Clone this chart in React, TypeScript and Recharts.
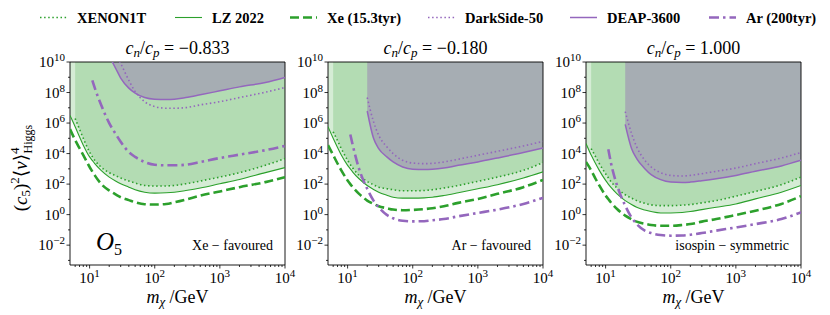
import React from "react";
import { ComposedChart, Line, Area, XAxis, YAxis, ReferenceArea } from "recharts";

// WIMP masses in GeV (shared grid for every curve)
const MASSES = [5, 6, 7, 8, 10, 11, 12, 15, 20, 25, 30, 40, 50, 70, 100, 150, 200, 300, 500, 1000, 2000, 5000, 10000];

// log10 of the limit on (c5)^2 <v>^4; null = curve not drawn there
// cn/cp = -0.833 (Xe favoured)
const P1_X1T = [null, 6.3, 5.6, 5.0, 4.1, 3.8, 3.56, 3.12, 2.75, 2.55, 2.4, 2.2, 2.07, 1.91, 1.87, 1.88, 1.91, 2.02, 2.2, 2.46, 2.75, 3.23, 3.67];
const P1_LZ = [6.5, 5.76, 5.1, 4.55, 3.78, 3.55, 3.34, 2.9, 2.46, 2.2, 2.02, 1.8, 1.63, 1.47, 1.41, 1.43, 1.47, 1.58, 1.74, 2.02, 2.3, 2.75, 3.08];
const P1_XE = [5.6, 4.88, 4.35, 3.9, 3.12, 2.83, 2.57, 2.02, 1.58, 1.33, 1.14, 0.95, 0.81, 0.68, 0.66, 0.7, 0.81, 0.99, 1.25, 1.52, 1.8, 2.13, 2.46];
const P1_DS = [null, null, null, null, null, null, null, null, 11.5, 10.5, 9.9, 8.8, 8.07, 7.4, 7.08, 6.97, 6.97, 7.01, 7.19, 7.4, 7.67, 8.02, 8.33];
const P1_DEAP = [null, null, null, null, null, null, null, null, 10.4, 9.6, 8.95, 8.29, 7.96, 7.67, 7.56, 7.54, 7.56, 7.67, 7.85, 8.11, 8.37, 8.66, 8.99];
const P1_AR = [null, null, null, null, null, 8.8, 8.3, 7.2, 6.0, 5.3, 4.77, 4.1, 3.78, 3.45, 3.27, 3.23, 3.23, 3.27, 3.45, 3.71, 3.93, 4.22, 4.5];

// cn/cp = -0.180 (Ar favoured)
const P2_X1T = [null, 5.43, 4.85, 4.33, 3.56, 3.28, 3.05, 2.57, 2.18, 1.95, 1.8, 1.7, 1.63, 1.56, 1.56, 1.58, 1.63, 1.74, 1.91, 2.18, 2.46, 2.9, 3.41];
const P2_LZ = [5.76, 5.0, 4.4, 3.9, 3.23, 3.0, 2.79, 2.35, 1.91, 1.65, 1.47, 1.27, 1.14, 1.08, 1.08, 1.1, 1.14, 1.25, 1.43, 1.69, 1.96, 2.4, 2.8];
const P2_XE = [4.55, 3.9, 3.35, 2.9, 2.24, 2.0, 1.8, 1.36, 0.92, 0.7, 0.55, 0.42, 0.33, 0.29, 0.31, 0.36, 0.42, 0.55, 0.77, 1.03, 1.36, 1.8, 2.27];
const P2_DS = [null, null, null, null, null, null, null, null, 7.67, 6.09, 5.2, 4.44, 4.0, 3.56, 3.38, 3.34, 3.36, 3.45, 3.63, 3.89, 4.15, 4.5, 4.8];
const P2_DEAP = [null, null, null, null, null, null, null, null, 6.79, 5.0, 4.33, 3.78, 3.45, 3.12, 2.97, 2.95, 2.97, 3.05, 3.23, 3.45, 3.71, 4.07, 4.37];
const P2_AR = [null, null, null, null, null, 5.25, 4.55, 3.0, 1.69, 0.92, 0.48, -0.02, -0.24, -0.4, -0.44, -0.43, -0.37, -0.29, -0.11, 0.11, 0.33, 0.7, 1.1];

// cn/cp = 1.000 (isospin symmetric)
const P3_X1T = [null, 4.33, 3.8, 3.34, 2.68, 2.42, 2.18, 1.74, 1.3, 1.08, 0.92, 0.74, 0.64, 0.59, 0.59, 0.62, 0.66, 0.77, 0.92, 1.21, 1.52, 1.96, 2.46];
const P3_LZ = [4.66, 3.9, 3.35, 2.9, 2.24, 2.0, 1.8, 1.36, 0.92, 0.66, 0.48, 0.3, 0.2, 0.11, 0.11, 0.14, 0.2, 0.33, 0.48, 0.7, 1.03, 1.47, 1.91];
const P3_XE = [3.45, 2.9, 2.35, 1.91, 1.25, 1.02, 0.81, 0.37, -0.07, -0.3, -0.46, -0.6, -0.68, -0.73, -0.73, -0.68, -0.62, -0.46, -0.29, -0.02, 0.26, 0.7, 1.21];
const P3_DS = [null, null, null, null, null, null, null, null, 6.75, 5.32, 4.44, 3.56, 3.12, 2.75, 2.57, 2.53, 2.57, 2.68, 2.84, 3.05, 3.34, 3.71, 4.07];
const P3_DEAP = [null, null, null, null, null, null, null, null, 5.91, 4.33, 3.67, 3.01, 2.62, 2.29, 2.13, 2.1, 2.13, 2.22, 2.35, 2.57, 2.84, 3.19, 3.56];
const P3_AR = [null, null, null, null, null, 4.29, 3.45, 1.91, 0.59, -0.18, -0.62, -1.05, -1.21, -1.34, -1.38, -1.37, -1.32, -1.21, -1.05, -0.84, -0.62, -0.29, 0.15];

const TITLES = ["\u22120.833", "\u22120.180", "1.000"];
const NOTES = ["Xe \u2212 favoured", "Ar \u2212 favoured", "isospin \u2212 symmetric"];

const X_TICKS = [6, 7, 8, 9, 10, 20, 30, 40, 50, 60, 70, 80, 90, 100, 200, 300, 400, 500, 600, 700, 800, 900, 1000, 2000, 3000, 4000, 5000, 6000, 7000, 8000, 9000, 10000];
const Y_TICKS = [1e-3, 1e-2, 1e-1, 1, 1e1, 1e2, 1e3, 1e4, 1e5, 1e6, 1e7, 1e8, 1e9, 1e10];

const GREEN = "#2ca02c";
const PURPLE = "#9467bd";
const GREY = "#a6adb3";
const FONT = "'Liberation Serif', 'DejaVu Serif', serif";

const PLOT_LEFTS = [70, 328, 586];
const PLOT_TOP = 62;
const PLOT_W = 215;
const PLOT_H = 203;
const Y_AXIS_W = 62;
const X_AXIS_H = 40;
const M_TOP = 14;
const M_RIGHT = 18;
const TOP = 1e11;

type Arr = (number | null)[];

function buildRows(x1t: Arr, lz: Arr, xe: Arr, ds: Arr, deap: Arr, ar: Arr) {
  const val = (a: Arr, i: number) => (a[i] == null ? null : 10 ** (a[i] as number));
  const band = (a: Arr, i: number) => (a[i] == null ? null : [10 ** (a[i] as number), TOP]);
  return MASSES.map((m, i) => ({
    m,
    x1t: val(x1t, i),
    lz: val(lz, i),
    xe: val(xe, i),
    ds: val(ds, i),
    deap: val(deap, i),
    ar: val(ar, i),
    lzBand: band(lz, i),
    x1tBand: band(x1t, i),
    deapBand: band(deap, i),
  }));
}

const PANELS = [
  buildRows(P1_X1T, P1_LZ, P1_XE, P1_DS, P1_DEAP, P1_AR),
  buildRows(P2_X1T, P2_LZ, P2_XE, P2_DS, P2_DEAP, P2_AR),
  buildRows(P3_X1T, P3_LZ, P3_XE, P3_DS, P3_DEAP, P3_AR),
];

const fmtExp = (e: number) => (e < 0 ? "\u2212" + Math.abs(e) : String(e));

function XTick(props: any) {
  const { x, y, payload } = props;
  const e = Math.log10(payload.value);
  const major = Math.abs(e - Math.round(e)) < 1e-6;
  return (
    <g>
      <line x1={x} x2={x} y1={y} y2={y + (major ? 3.5 : 2)} stroke="#000" strokeWidth={0.8} />
      {major && (
        <text x={x} y={y + 18} textAnchor="middle" fontFamily={FONT} fontSize={15} fill="#000">
          10<tspan dy={-6} fontSize={11}>{fmtExp(Math.round(e))}</tspan>
        </text>
      )}
    </g>
  );
}

function YTick(props: any) {
  const { x, y, payload } = props;
  const e = Math.round(Math.log10(payload.value));
  const major = e % 2 === 0;
  return (
    <g>
      <line x1={x} x2={x - (major ? 3.5 : 2)} y1={y} y2={y} stroke="#000" strokeWidth={0.8} />
      {major && (
        <text x={x - 5} y={y + 5} textAnchor="end" fontFamily={FONT} fontSize={15} fill="#000">
          10<tspan dy={-6} fontSize={11}>{fmtExp(e)}</tspan>
        </text>
      )}
    </g>
  );
}

function Panel({ idx }: { idx: number }) {
  const left = PLOT_LEFTS[idx];
  return (
    <div style={{ position: "absolute", left: left - Y_AXIS_W, top: PLOT_TOP - M_TOP }}>
      <ComposedChart
        width={Y_AXIS_W + PLOT_W + M_RIGHT}
        height={M_TOP + PLOT_H + X_AXIS_H}
        data={PANELS[idx]}
        margin={{ top: M_TOP, right: M_RIGHT, bottom: 0, left: 0 }}
      >
        <XAxis
          dataKey="m"
          type="number"
          scale="log"
          domain={[5, 10000]}
          ticks={X_TICKS}
          interval={0}
          tick={(p: any) => <XTick {...p} />}
          tickLine={false}
          tickSize={0}
          tickMargin={0}
          axisLine={false}
          height={X_AXIS_H}
          allowDataOverflow
        />
        <YAxis
          type="number"
          scale="log"
          domain={[5e-4, 1e10]}
          ticks={Y_TICKS}
          interval={0}
          tick={(p: any) => <YTick {...p} />}
          tickLine={false}
          tickSize={0}
          tickMargin={0}
          axisLine={false}
          width={Y_AXIS_W}
          allowDataOverflow
        />
        <Area dataKey="lzBand" type="monotone" stroke="none" fill={GREEN} fillOpacity={0.2} isAnimationActive={false} />
        <Area dataKey="x1tBand" type="monotone" stroke="none" fill={GREEN} fillOpacity={0.2} isAnimationActive={false} />
        <Area dataKey="deapBand" type="monotone" stroke="none" fill={GREY} fillOpacity={1} isAnimationActive={false} />
        <Line dataKey="x1t" type="monotone" stroke={GREEN} strokeWidth={1.6} strokeDasharray="1.5 2.6" dot={false} isAnimationActive={false} />
        <Line dataKey="lz" type="monotone" stroke={GREEN} strokeWidth={1.1} dot={false} isAnimationActive={false} />
        <Line dataKey="xe" type="monotone" stroke={GREEN} strokeWidth={2.6} strokeDasharray="9 4" dot={false} isAnimationActive={false} />
        <Line dataKey="ds" type="monotone" stroke={PURPLE} strokeWidth={1.6} strokeDasharray="1.5 2.6" dot={false} isAnimationActive={false} />
        <Line dataKey="deap" type="monotone" stroke={PURPLE} strokeWidth={1.5} dot={false} isAnimationActive={false} />
        <Line dataKey="ar" type="monotone" stroke={PURPLE} strokeWidth={2.6} strokeDasharray="10 4 2.5 4" dot={false} isAnimationActive={false} />
        <ReferenceArea x1={5} x2={10000} y1={5e-4} y2={1e10} fill="none" stroke="#000" strokeWidth={0.9} ifOverflow="visible" />
      </ComposedChart>
    </div>
  );
}

const LEGEND = [
  { label: "XENON1T", color: GREEN, width: 1.6, dash: "1.5 2.6", x: 40 },
  { label: "LZ 2022", color: GREEN, width: 1.1, dash: undefined, x: 175 },
  { label: "Xe (15.3tyr)", color: GREEN, width: 2.6, dash: "9 4", x: 290 },
  { label: "DarkSide-50", color: PURPLE, width: 1.6, dash: "1.5 2.6", x: 428 },
  { label: "DEAP-3600", color: PURPLE, width: 1.5, dash: undefined, x: 570 },
  { label: "Ar (200tyr)", color: PURPLE, width: 2.6, dash: "10 4 2.5 4", x: 709 },
];

function Overlay() {
  return (
    <svg width={830} height={315} style={{ position: "absolute", left: 0, top: 0, pointerEvents: "none" }}>
      {LEGEND.map((l) => (
        <g key={l.label}>
          <line x1={l.x} x2={l.x + 27} y1={17.5} y2={17.5} stroke={l.color} strokeWidth={l.width} strokeDasharray={l.dash} />
          <text x={l.x + 37} y={23} fontFamily={FONT} fontWeight="bold" fontSize={14.5} fill="#000">
            {l.label}
          </text>
        </g>
      ))}
      {PLOT_LEFTS.map((left, i) => {
        const cx = left + PLOT_W / 2;
        return (
          <g key={i} fontFamily={FONT} fill="#000">
            <text x={cx} y={54} textAnchor="middle" fontSize={18}>
              <tspan fontStyle="italic">c</tspan>
              <tspan fontStyle="italic" fontSize={13} dy={3}>n</tspan>
              <tspan dy={-3}>/</tspan>
              <tspan fontStyle="italic">c</tspan>
              <tspan fontStyle="italic" fontSize={13} dy={3}>p</tspan>
              <tspan dy={-3}>{" = " + TITLES[i]}</tspan>
            </text>
            <text x={cx} y={303} textAnchor="middle" fontSize={18}>
              <tspan fontStyle="italic">m</tspan>
              <tspan fontStyle="italic" fontSize={13} dy={3}>{"\u03c7"}</tspan>
              <tspan dy={-3}>{"  /GeV"}</tspan>
            </text>
            <text x={left + PLOT_W - 12} y={250} textAnchor="end" fontSize={14}>
              {NOTES[i]}
            </text>
          </g>
        );
      })}
      <text x={96} y={250} fontFamily={FONT} fontSize={25} fontStyle="italic" fill="#000">
        O<tspan fontStyle="normal" fontSize={16} dy={5}>5</tspan>
      </text>
      <text transform="translate(27,168) rotate(-90)" textAnchor="middle" fontFamily={FONT} fontSize={19} fill="#000">
        (<tspan fontStyle="italic">c</tspan>
        <tspan fontSize={13} dy={3}>5</tspan>
        <tspan dy={-3}>)</tspan>
        <tspan fontSize={13} dy={-8}>2</tspan>
        <tspan dy={8}>{"\u27e8"}</tspan>
        <tspan fontStyle="italic">v</tspan>
        <tspan>{"\u27e9"}</tspan>
        <tspan fontSize={13} dy={-8}>4</tspan>
        <tspan fontSize={12} dx={-6} dy={13}>Higgs</tspan>
      </text>
    </svg>
  );
}

export default function App() {
  return (
    <div style={{ position: "absolute", left: 0, top: 0, width: 830, height: 315, background: "#fff" }}>
      {[0, 1, 2].map((i) => (
        <Panel key={i} idx={i} />
      ))}
      <Overlay />
    </div>
  );
}
